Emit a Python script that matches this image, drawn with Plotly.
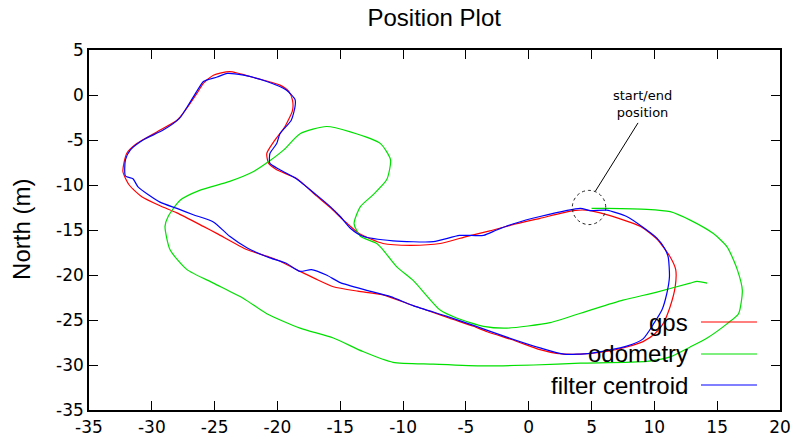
import plotly.graph_objects as go

# GPS track (red)
gps_x = [4.6, 6.2, 8.9, 10.2, 11.26, 11.7, 11.66, 11.26, 10.7, 10.06, 9.1, 7.8, 6.2, 4.1, 2.2, 0.9,
         -1.1, -3.3, -4.4, -6.3, -7.1, -9.4, -11.6, -13.6, -15.55, -17.0, -18.2, -20.06, -22.4, -24.8,
         -25.9, -28.0, -29.35, -30.8, -31.8, -32.3, -32.0, -31.2, -29.6, -28.0, -27.5, -26.4, -25.9,
         -25.1, -23.8, -21.65, -19.8, -19.1, -18.8, -18.8, -19.4, -20.3, -20.85, -20.7, -20.06, -18.5,
         -16.9, -15.8, -14.75, -13.5, -11.6, -9.4, -7.05, -4.9, -3.1, -0.95, 0.9, 3.56, 4.6]
gps_y = [-12.8, -13.3, -14.6, -16.0, -18.0, -19.4, -21.3, -23.5, -25.4, -26.5, -27.4, -28.0, -28.5, -28.8,
         -28.7, -28.3, -27.3, -26.3, -25.7, -24.8, -24.4, -23.3, -22.2, -21.8, -21.3, -20.4, -19.6, -18.3,
         -17.2, -15.4, -14.6, -13.1, -12.3, -11.3, -10.0, -8.5, -6.5, -5.4, -4.1, -2.8, -2.0, 0.2, 1.3,
         2.2, 2.6, 1.85, 1.1, 0.4, -0.6, -1.7, -3.5, -5.2, -6.5, -7.6, -8.3, -9.26, -11.2, -12.5, -13.9,
         -15.4, -16.5, -16.7, -16.5, -15.7, -15.1, -14.3, -13.7, -12.85, -12.8]

# Odometry track (green)
odo_x = [5.0, 6.2, 9.4, 11.26, 12.85, 14.7, 15.8, 16.6, 17.0, 16.7, 15.8, 14.2, 12.85, 11.26, 9.4, 4.1,
         0.4, -3.6, -7.6, -10.8, -13.2, -15.55, -18.2, -20.85, -22.7, -25.1, -27.2, -28.55, -28.95,
         -28.7, -27.75, -26.2, -23.8, -21.9, -20.7, -19.5, -18.2, -16.1, -14.2, -11.8, -11.0, -11.3,
         -12.4, -13.4, -13.9, -13.4, -12.1, -11.6, -10.5, -9.2, -7.05, -5.7, -3.6, -1.75, 1.7, 4.9,
         7.5, 10.2, 12.85, 13.4, 14.2]
odo_y = [-12.6, -12.6, -12.7, -12.96, -13.9, -15.4, -16.9, -19.4, -21.7, -24.3, -25.4, -27.0, -28.0,
         -29.1, -29.6, -29.8, -30.0, -30.1, -29.9, -29.7, -28.5, -27.0, -25.9, -24.3, -22.6, -20.9,
         -19.4, -17.2, -14.6, -13.5, -11.7, -10.6, -9.6, -8.5, -7.4, -6.1, -4.3, -3.5, -4.1, -5.4,
         -7.2, -9.4, -11.1, -12.4, -14.3, -15.7, -16.5, -17.2, -19.1, -20.6, -23.9, -24.8, -25.7,
         -25.9, -25.3, -23.9, -22.8, -21.9, -20.9, -20.7, -20.9]

# Filter centroid track (blue)
filt_x = [4.1, 4.9, 6.2, 7.8, 9.2, 10.2, 10.8, 11.1, 11.2, 11.0, 10.6, 10.0, 9.1, 7.8, 4.9, 2.8, 0.9,
          -1.75, -4.4, -6.5, -9.2, -11.0, -12.9, -15.0, -16.1, -17.3, -18.2, -19.3, -20.6, -22.4,
          -23.8, -25.1, -26.7, -28.0, -29.35, -31.1, -31.5, -32.1, -32.1, -31.7, -30.7, -29.1, -27.8,
          -27.0, -26.2, -25.9, -24.8, -24.0, -22.7, -20.85, -19.3, -18.6, -18.6, -18.9, -19.8,
          -20.06, -20.6, -20.6, -19.8, -18.5, -16.9, -15.8, -15.0, -14.2, -13.2, -10.8, -7.6, -5.5,
          -3.6, -2.55, -1.2, 0.9, 4.1]
filt_y = [-12.6, -12.85, -12.8, -13.5, -14.8, -15.9, -17.0, -18.0, -20.2, -22.0, -23.9, -25.3, -27.1,
          -27.9, -28.7, -28.8, -28.1, -26.9, -25.6, -24.6, -23.4, -22.4, -21.7, -20.85, -20.0, -19.4,
          -19.6, -18.7, -18.1, -17.0, -15.7, -14.1, -13.3, -12.6, -11.9, -10.2, -9.3, -9.0, -7.2,
          -6.1, -5.0, -3.9, -2.6, -0.9, 0.9, 1.5, 2.0, 2.4, 2.2, 1.5, 0.56, -0.5, -1.3, -2.8, -4.3,
          -5.4, -6.5, -7.6, -8.3, -9.3, -11.1, -12.4, -13.5, -14.8, -15.7, -16.2, -16.3, -15.6,
          -15.6, -15.0, -14.3, -13.5, -12.6]

series_names = ["gps", "odometry", "filter centroid"]
series_colors = ["#ff0000", "#00e000", "#0000ff"]
x_ticks = [-35, -30, -25, -20, -15, -10, -5, 0, 5, 10, 15, 20]
y_ticks = [-35, -30, -25, -20, -15, -10, -5, 0, 5]
x_tick_labels = [str(v) for v in x_ticks]
y_tick_labels = [str(v) for v in y_ticks]

fig = go.Figure()
for xs, ys, name, col in [(gps_x, gps_y, series_names[0], series_colors[0]),
                          (odo_x, odo_y, series_names[1], series_colors[1]),
                          (filt_x, filt_y, series_names[2], series_colors[2])]:
    fig.add_trace(go.Scatter(x=xs, y=ys, mode="lines", name=name,
                             line=dict(color=col, width=1.2, shape="spline", smoothing=0.6),
                             showlegend=False, hoverinfo="skip"))

axis_common = dict(showgrid=False, zeroline=False, showline=True, linecolor="black", linewidth=1.5,
                   mirror="ticks", ticks="inside", ticklen=9, tickwidth=1, tickcolor="black",
                   automargin=False,
                   tickfont=dict(family="DejaVu Sans", size=17, color="black"))

fig.update_layout(
    width=796, height=439,
    margin=dict(l=89, r=16, t=50, b=29, autoexpand=False),
    paper_bgcolor="white", plot_bgcolor="white",
    title=dict(text="Position Plot", x=0.5455, xanchor="center", y=1 - 18 / 439, yanchor="middle",
               yref="container", font=dict(family="Liberation Sans", size=24, color="black")),
    xaxis=dict(range=[-35, 20], tickvals=x_ticks, ticktext=x_tick_labels, ticklabelstandoff=1,
               **axis_common),
    yaxis=dict(range=[-35, 5], tickvals=y_ticks, ticktext=y_tick_labels, **axis_common),
)

# Y axis title
fig.add_annotation(text="North (m)", xref="paper", yref="paper", x=-0.097, y=0.503,
                   textangle=-90, showarrow=False, xanchor="center", yanchor="middle",
                   font=dict(family="Liberation Sans", size=24, color="black"))

# Legend (gnuplot style: text then line sample)
leg_y = [0.2444, 0.1556, 0.0694]
for name, col, yy in zip(series_names, series_colors, leg_y):
    fig.add_annotation(text=name, xref="paper", yref="paper", x=0.8698, y=yy, xanchor="right",
                       yanchor="middle", showarrow=False,
                       font=dict(family="Liberation Sans", size=24, color="black"))
    fig.add_shape(type="line", xref="paper", yref="paper", x0=0.8857, x1=0.9667, y0=yy, y1=yy,
                  line=dict(color=col, width=1.2))

# start/end marker
fig.add_shape(type="circle", xref="x", yref="y", x0=3.47, x1=6.13, y0=-14.4, y1=-10.6,
              line=dict(color="#222222", width=1, dash="dot"))
fig.add_shape(type="line", xref="x", yref="y", x0=8.7, y0=-3.1, x1=5.3, y1=-10.7,
              line=dict(color="black", width=1))
fig.add_annotation(text="start/end<br>position", xref="paper", yref="paper", x=0.8003, y=0.85,
                   xanchor="center", yanchor="middle", showarrow=False,
                   font=dict(family="DejaVu Sans", size=13, color="black"))

fig.write_html("out.html")
